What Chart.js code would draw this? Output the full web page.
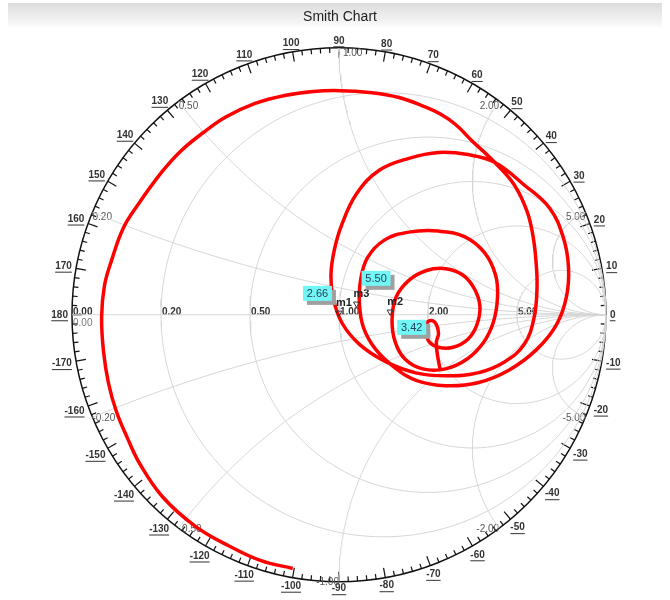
<!DOCTYPE html>
<html>
<head>
<meta charset="utf-8">
<title>Smith Chart</title>
<script src="https://cdn.jsdelivr.net/npm/chart.js@4.4.0/dist/chart.umd.min.js"></script>
<style>
  body { margin: 0; background: #fff; }
  #wrap { width: 670px; height: 600px; }
</style>
</head>
<body>
<div id="wrap"><canvas id="chart"></canvas></div>
<script>
// reflection coefficient of the swept trace (real / imaginary part)
const traceRe = [-0.173,-0.292,-0.413,-0.539,-0.661,-0.745,-0.793,-0.834,-0.863,-0.882,-0.889,-0.878,-0.852,-0.808,-0.753,-0.664,-0.594,-0.509,-0.424,-0.314,-0.203,-0.096,0.004,0.114,0.225,0.317,0.380,0.439,0.494,0.583,0.657,0.705,0.727,0.738,0.742,0.731,0.694,0.620,0.520,0.399,0.288,0.177,0.077,0.011,-0.022,-0.030,-0.018,0.011,0.066,0.151,0.262,0.373,0.483,0.583,0.694,0.790,0.841,0.860,0.852,0.815,0.742,0.638,0.520,0.399,0.292,0.210,0.137,0.092,0.077,0.081,0.107,0.170,0.262,0.373,0.472,0.546,0.587,0.594,0.579,0.542,0.480,0.399,0.314,0.247,0.210,0.199,0.214,0.262,0.328,0.399,0.461,0.506,0.528,0.517,0.483,0.428,0.373,0.339,0.325,0.328,0.347,0.365,0.373,0.365,0.369,0.380];
const traceIm = [-0.952,-0.923,-0.867,-0.793,-0.683,-0.561,-0.461,-0.362,-0.258,-0.137,-0.007,0.111,0.203,0.325,0.413,0.535,0.613,0.683,0.742,0.793,0.823,0.838,0.841,0.834,0.815,0.782,0.753,0.712,0.657,0.572,0.487,0.387,0.295,0.203,0.103,-0.011,-0.111,-0.177,-0.218,-0.229,-0.218,-0.177,-0.111,-0.030,0.063,0.148,0.240,0.339,0.454,0.542,0.587,0.609,0.601,0.572,0.487,0.399,0.288,0.177,0.066,-0.037,-0.129,-0.207,-0.255,-0.266,-0.247,-0.199,-0.129,-0.048,0.037,0.129,0.214,0.280,0.310,0.314,0.292,0.232,0.148,0.066,-0.026,-0.103,-0.166,-0.203,-0.203,-0.166,-0.100,-0.018,0.066,0.129,0.166,0.173,0.151,0.100,0.033,-0.037,-0.092,-0.122,-0.122,-0.103,-0.066,-0.033,-0.022,-0.037,-0.070,-0.103,-0.151,-0.210];

// markers
const markerNames = ["m1", "m2", "m3"];
const markerRe = [0.000, 0.192, 0.066];
const markerIm = [0.007, 0.011, 0.041];
const markerValues = ["2.66", "3.42", "5.50"];

// grid values and tick labels
const chartTitle = "Smith Chart";
const resistanceValues = [0.2, 0.5, 1, 2, 5];
const reactanceValues = [0.2, 0.5, 1, 2, 5];
const resistanceLabels = ["0.00", "0.20", "0.50", "1.00", "2.00", "5.00"];
const angleLabels = [0, 10, 20, 30, 40, 50, 60, 70, 80, 90, 100, 110, 120, 130, 140, 150, 160, 170, 180,
  -170, -160, -150, -140, -130, -120, -110, -100, -90, -80, -70, -60, -50, -40, -30, -20, -10];

const FONT = '"Liberation Sans", Arial, sans-serif';
const GRID = '#d6d6d6';
// value box placement relative to each marker (px)
const boxOffsets = [[-36, -27], [7, 8], [5, -33]];

function rCircle(r) {
  const c = r / (1 + r), rad = 1 / (1 + r), pts = [];
  for (let k = 0; k <= 180; k++) {
    const t = k / 180 * 2 * Math.PI;
    pts.push({ x: c + rad * Math.cos(t), y: rad * Math.sin(t) });
  }
  return pts;
}

function xArc(x) {
  const pts = [];
  for (let k = 0; k < 120; k++) {
    const r = Math.tan(k / 120 * Math.PI / 2);
    const d = (r + 1) * (r + 1) + x * x;
    pts.push({ x: (r * r - 1 + x * x) / d, y: 2 * x / d });
  }
  pts.push({ x: 1, y: 0 });
  return pts;
}

const gridStyle = { showLine: true, pointRadius: 0, borderColor: GRID, borderWidth: 1, tension: 0, order: 5 };
const datasets = [];
datasets.push({ ...gridStyle, data: [{ x: -1, y: 0 }, { x: 1, y: 0 }] });
resistanceValues.forEach(r => datasets.push({ ...gridStyle, data: rCircle(r) }));
reactanceValues.forEach(x => {
  datasets.push({ ...gridStyle, data: xArc(x) });
  datasets.push({ ...gridStyle, data: xArc(-x) });
});

datasets.push({
  data: traceRe.map((re, i) => ({ x: re, y: traceIm[i] })),
  showLine: true,
  pointRadius: 0,
  borderColor: '#ff0000',
  borderWidth: 3.5,
  tension: 0.4,
  order: 1
});

datasets.push({
  data: markerRe.map((re, i) => ({ x: re, y: markerIm[i] })),
  showLine: false,
  pointStyle: 'triangle',
  rotation: 180,
  pointRadius: 3.5,
  borderColor: '#333',
  borderWidth: 1,
  backgroundColor: 'rgba(255,255,255,0)',
  order: 0
});

const decor = {
  id: 'smithDecor',
  beforeDatasetsDraw(chart) {
    const { ctx } = chart;
    const xs = chart.scales.x, ys = chart.scales.y;
    const px = v => xs.getPixelForValue(v), py = v => ys.getPixelForValue(v);
    const cx = px(0), cy = py(0), R = px(1) - cx;
    ctx.save();

    // header band and title
    const g = ctx.createLinearGradient(0, 3, 0, 27);
    g.addColorStop(0, '#dcdcdc');
    g.addColorStop(1, '#fbfbfb');
    ctx.fillStyle = g;
    ctx.fillRect(8, 3, 654, 24);
    ctx.fillStyle = '#1e1e1e';
    ctx.font = '14px ' + FONT;
    ctx.textAlign = 'center';
    ctx.textBaseline = 'middle';
    ctx.fillText(chartTitle, 340, 17);

    // outer ring with angle ticks
    ctx.strokeStyle = '#111';
    ctx.lineWidth = 1.5;
    ctx.beginPath();
    ctx.arc(cx, cy, R, 0, Math.PI * 2);
    ctx.stroke();
    ctx.lineWidth = 1.2;
    for (let a = -180; a < 180; a += 2) {
      const t = a * Math.PI / 180, len = a % 10 === 0 ? 10 : 5;
      ctx.beginPath();
      ctx.moveTo(cx + R * Math.cos(t), cy - R * Math.sin(t));
      ctx.lineTo(cx + (R - len) * Math.cos(t), cy - (R - len) * Math.sin(t));
      ctx.stroke();
    }

    // angle labels, underlined
    ctx.font = 'bold 10px ' + FONT;
    ctx.fillStyle = '#333';
    ctx.strokeStyle = '#333';
    ctx.lineWidth = 1;
    angleLabels.forEach(a => {
      const t = a * Math.PI / 180, s = String(a), w = ctx.measureText(s).width;
      const rl = R + 4 + 0.5 * w * Math.abs(Math.cos(t)) + 3 * Math.abs(Math.sin(t));
      const x = cx + rl * Math.cos(t), y = cy - rl * Math.sin(t);
      ctx.fillText(s, x, y);
      ctx.beginPath();
      ctx.moveTo(x - w / 2, y + 6);
      ctx.lineTo(x + w / 2, y + 6);
      ctx.stroke();
    });

    // resistance labels along the real axis
    ctx.textAlign = 'left';
    ctx.textBaseline = 'alphabetic';
    ctx.fillStyle = '#333';
    [0].concat(resistanceValues).forEach((r, i) => {
      const gx = (r - 1) / (r + 1);
      ctx.fillText(resistanceLabels[i], px(gx) + 1, cy);
    });
    ctx.font = '10px ' + FONT;
    ctx.fillStyle = '#777';
    ctx.textBaseline = 'top';
    ctx.fillText(resistanceLabels[0], px(-1) + 1, cy + 3);

    // reactance labels at the rim
    ctx.fillStyle = '#555';
    reactanceValues.forEach(v => {
      [v, -v].forEach(x => {
        const d = x * x + 1;
        const gx = (x * x - 1) / d, gy = 2 * x / d;
        const X = px(gx), Y = py(gy);
        const s = (x < 0 ? '-' : '') + Math.abs(x).toFixed(2);
        const onAxis = Math.abs(gx) < 1e-6;
        const left = gx < -1e-6 || (onAxis && gy > 0);
        ctx.textAlign = left ? 'left' : 'right';
        ctx.textBaseline = gy > 0 ? 'top' : 'middle';
        ctx.fillText(s, X + (onAxis && gy > 0 ? 4 : 0), Y + (gy > 0 ? 0 : 1));
      });
    });
    ctx.restore();
  },
  afterDatasetsDraw(chart) {
    const { ctx } = chart;
    const xs = chart.scales.x, ys = chart.scales.y;
    ctx.save();
    markerNames.forEach((name, i) => {
      const mx = xs.getPixelForValue(markerRe[i]), my = ys.getPixelForValue(markerIm[i]);
      ctx.font = 'bold 11px ' + FONT;
      ctx.fillStyle = '#222';
      ctx.textAlign = 'left';
      ctx.textBaseline = 'bottom';
      ctx.fillText(name, mx - 3, my - 4);

      const bx = mx + boxOffsets[i][0], by = my + boxOffsets[i][1], bw = 29, bh = 15;
      ctx.fillStyle = '#a0a0a0';
      ctx.fillRect(bx + 4, by + 4, bw, bh);
      ctx.fillStyle = '#72f7f7';
      ctx.fillRect(bx, by, bw, bh);
      ctx.fillStyle = '#23405a';
      ctx.font = '11px ' + FONT;
      ctx.textAlign = 'center';
      ctx.textBaseline = 'middle';
      ctx.fillText(markerValues[i], bx + bw / 2, by + bh / 2 + 1);
    });
    ctx.restore();
  }
};

new Chart(document.getElementById('chart'), {
  type: 'scatter',
  data: { datasets },
  options: {
    responsive: true,
    maintainAspectRatio: false,
    animation: false,
    events: [],
    layout: { padding: 0 },
    plugins: {
      legend: { display: false },
      tooltip: { enabled: false },
      title: { display: false }
    },
    scales: {
      x: { type: 'linear', display: false, min: -339 / 271, max: 331 / 271 },
      y: { type: 'linear', display: false, min: -285 / 271, max: 315 / 271 }
    }
  },
  plugins: [decor]
});
</script>
</body>
</html>
